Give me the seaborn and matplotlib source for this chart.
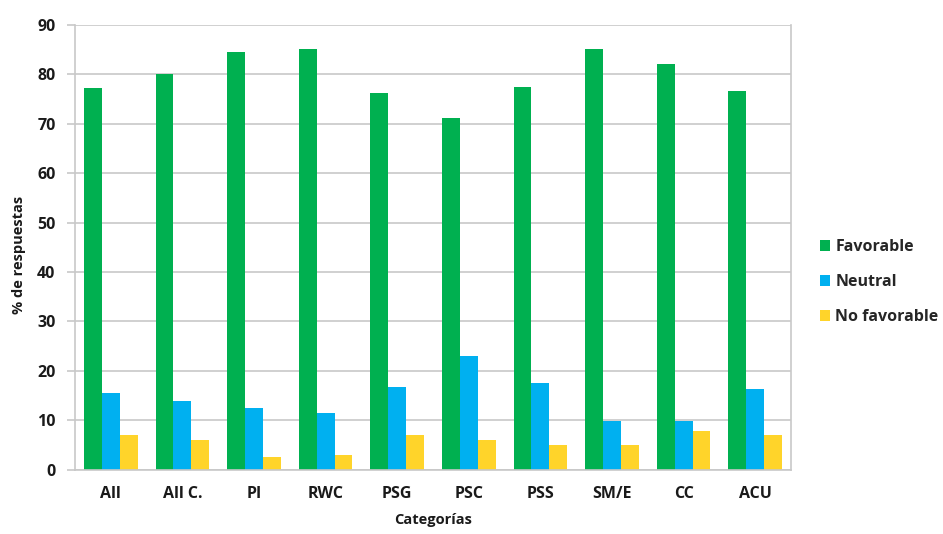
import matplotlib
matplotlib.use("Agg")
import matplotlib.pyplot as plt
from matplotlib.patches import Patch
import seaborn as sns
import pandas as pd
import numpy as np

categories = ["All", "All C.", "PI", "RWC", "PSG", "PSC", "PSS", "SM/E", "CC", "ACU"]
favorable = [77.3, 80.1, 84.6, 85.2, 76.3, 71.2, 77.5, 85.2, 82.1, 76.6]
neutral = [15.5, 13.8, 12.5, 11.5, 16.8, 23.0, 17.6, 9.8, 9.9, 16.3]
no_favorable = [6.9, 5.9, 2.6, 3.0, 6.9, 5.9, 4.9, 4.9, 7.7, 6.9]
series_names = ["Favorable", "Neutral", "No favorable"]
colors = ["#00B050", "#00B0F0", "#FFD42A"]

df = pd.DataFrame({
    "cat": categories * 3,
    "serie": sum([[s] * len(categories) for s in series_names], []),
    "val": favorable + neutral + no_favorable,
})

sns.set_theme(style="white")
plt.rcParams["font.family"] = ["Open Sans", "DejaVu Sans"]

fig = plt.figure(figsize=(9.43, 5.34), dpi=100)
ax = fig.add_axes([75 / 943, 1 - 469.5 / 534, (791 - 75) / 943, (469.5 - 25) / 534])

sns.barplot(data=df, x="cat", y="val", hue="serie", order=categories,
            hue_order=series_names, palette=colors, width=0.75,
            saturation=1, ax=ax, legend=False, edgecolor="none")

ax.set_ylim(0, 90)
ax.set_xlim(-0.5, len(categories) - 0.5)
ax.set_yticks(np.arange(0, 91, 10))
ax.yaxis.grid(True, color="#C8C8C8", linewidth=1.2)
ax.set_axisbelow(True)
for s in ["left", "bottom", "right"]:
    ax.spines[s].set_color("#C8C8C8")
    ax.spines[s].set_linewidth(1.2)
ax.spines["top"].set_visible(False)

ax.set_xticks(np.arange(-0.5, len(categories) + 0.5, 1), minor=True)
ax.tick_params(axis="x", which="major", length=0, pad=12)
ax.tick_params(axis="x", which="minor", length=6, color="#C8C8C8", width=1.2)
ax.tick_params(axis="y", which="major", length=6, color="#C8C8C8", width=1.2, pad=8, left=True)

for lbl in ax.get_xticklabels() + ax.get_yticklabels():
    lbl.set_fontweight("bold")
    lbl.set_fontsize(11.5)
    lbl.set_color("#1a1a1a")

ax.set_xlabel("Categorías", fontsize=10.5, fontweight="bold", color="#1a1a1a", labelpad=8)
ax.set_ylabel("% de respuestas", fontsize=10.5, fontweight="bold", color="#1a1a1a")
ax.yaxis.set_label_coords((26 - 75) / 716, (469.5 - 255) / 444.5)

handles = [Patch(facecolor=c, edgecolor="none") for c in colors]
fig.legend(handles, series_names, loc="center left", bbox_to_anchor=(820 / 943, 1 - 282 / 534),
           frameon=False, prop={"weight": "bold", "size": 11.5}, handlelength=0.65,
           handleheight=0.65, handletextpad=0.3, labelspacing=1.2, borderaxespad=0,
           borderpad=0)

fig.savefig("out.png", dpi=100)
